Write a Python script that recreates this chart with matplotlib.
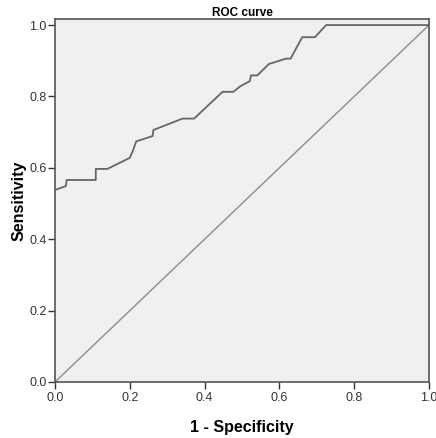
import matplotlib
matplotlib.use("Agg")
import matplotlib.pyplot as plt

# ROC curve points (1 - specificity, sensitivity)
fpr = [0.0, 0.029, 0.031, 0.109, 0.109, 0.140, 0.200, 0.209, 0.217, 0.261, 0.263,
       0.341, 0.372, 0.448, 0.477, 0.496, 0.521, 0.524, 0.541, 0.572, 0.618, 0.630,
       0.661, 0.695, 0.725, 1.0]
tpr = [0.538, 0.549, 0.566, 0.566, 0.597, 0.597, 0.628, 0.650, 0.674, 0.689, 0.706,
       0.738, 0.738, 0.813, 0.813, 0.829, 0.843, 0.859, 0.859, 0.891, 0.906, 0.906,
       0.966, 0.966, 1.0, 1.0]
ref_x = [0.0, 1.0]
ref_y = [0.0, 1.0]
ticks = [0.0, 0.2, 0.4, 0.6, 0.8, 1.0]
tick_labels = ["0.0", "0.2", "0.4", "0.6", "0.8", "1.0"]

plt.rcParams['font.family'] = ['Liberation Sans', 'DejaVu Sans']

fig = plt.figure(figsize=(4.36, 4.38), dpi=100)
fig.patch.set_facecolor('white')
ax = fig.add_axes([55/436, 1 - 382/438, 374/436, 363/438])
ax.set_facecolor('#F0F0F0')

ax.plot(ref_x, ref_y, color='#8C8C8C', lw=1.0)
ax.plot(fpr, tpr, color='#666666', lw=1.3)

ax.set_xlim(0, 1.0)
ax.set_ylim(0, 1.017)
ax.set_xticks(ticks)
ax.set_xticklabels(tick_labels)
ax.set_yticks(ticks)
ax.set_yticklabels(tick_labels)
ax.tick_params(direction='out', length=5, width=1, color='#333333',
               labelsize=9, labelcolor='#333333', pad=1)
ax.tick_params(axis='x', pad=2)
for s in ax.spines.values():
    s.set_color('#555555')
    s.set_linewidth(1.2)

ax.set_xlabel('1 - Specificity', fontsize=11.5, fontweight='bold', labelpad=12)
ax.set_ylabel('Sensitivity', fontsize=11.5, fontweight='bold', labelpad=2)
ax.set_title('ROC curve', fontsize=8.5, fontweight='bold', pad=2)

fig.savefig('out.png', dpi=100)
